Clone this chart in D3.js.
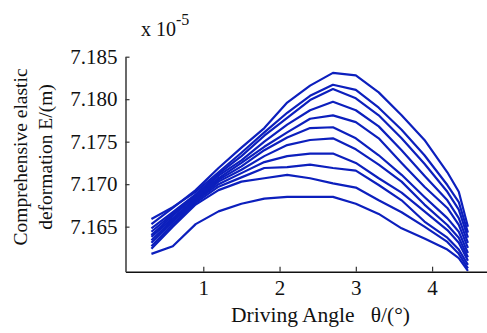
<!DOCTYPE html>
<html>
<head>
<meta charset="utf-8">
<script src="https://cdn.jsdelivr.net/npm/d3@7"></script>
<style>
  body { margin: 0; background: #fff; }
  svg { display: block; font-family: "Liberation Serif", "Times New Roman", serif; }
  text { white-space: pre; }
</style>
</head>
<body>
<svg id="chart" width="487" height="333"></svg>
<script>
// driving angle (deg) sample points
const angle = [0.32, 0.6, 0.9, 1.2, 1.5, 1.8, 2.1, 2.4, 2.7, 3.0, 3.3, 3.6, 3.9, 4.2, 4.35, 4.47];

// comprehensive elastic deformation, x 1e-5 m, one array per curve
const curveA = [7.1653, 7.1672, 7.1693, 7.1719, 7.1743, 7.1766, 7.1796, 7.1816, 7.1831, 7.1828, 7.1808, 7.1781, 7.1752, 7.1714, 7.1691, 7.1650];
const curveB = [7.1659, 7.1673, 7.1691, 7.1714, 7.1737, 7.1761, 7.1784, 7.1804, 7.1817, 7.1811, 7.1790, 7.1764, 7.1734, 7.1699, 7.1679, 7.1643];
const curveC = [7.1648, 7.1667, 7.1688, 7.1712, 7.1733, 7.1757, 7.1778, 7.1799, 7.1812, 7.1801, 7.1781, 7.1754, 7.1724, 7.1691, 7.1670, 7.1637];
const curveD = [7.1644, 7.1665, 7.1686, 7.1710, 7.1728, 7.1750, 7.1770, 7.1787, 7.1797, 7.1787, 7.1768, 7.1740, 7.1710, 7.1681, 7.1660, 7.1631];
const curveE = [7.1640, 7.1663, 7.1685, 7.1707, 7.1725, 7.1744, 7.1761, 7.1777, 7.1781, 7.1773, 7.1754, 7.1725, 7.1697, 7.1672, 7.1652, 7.1625];
const curveF = [7.1638, 7.1660, 7.1683, 7.1705, 7.1721, 7.1740, 7.1755, 7.1766, 7.1767, 7.1754, 7.1734, 7.1711, 7.1685, 7.1660, 7.1644, 7.1619];
const curveG = [7.1634, 7.1658, 7.1681, 7.1703, 7.1717, 7.1733, 7.1746, 7.1752, 7.1754, 7.1741, 7.1723, 7.1703, 7.1676, 7.1652, 7.1637, 7.1614];
const curveH = [7.1631, 7.1656, 7.1680, 7.1700, 7.1713, 7.1726, 7.1733, 7.1736, 7.1736, 7.1725, 7.1707, 7.1690, 7.1668, 7.1646, 7.1631, 7.1610];
const curveI = [7.1627, 7.1653, 7.1678, 7.1697, 7.1708, 7.1719, 7.1720, 7.1723, 7.1719, 7.1716, 7.1699, 7.1681, 7.1656, 7.1637, 7.1623, 7.1605];
const curveJ = [7.1624, 7.1650, 7.1676, 7.1693, 7.1703, 7.1707, 7.1711, 7.1707, 7.1701, 7.1696, 7.1681, 7.1667, 7.1650, 7.1632, 7.1618, 7.1601];
const curveK = [7.1618, 7.1627, 7.1653, 7.1668, 7.1677, 7.1683, 7.1685, 7.1685, 7.1685, 7.1677, 7.1665, 7.1648, 7.1636, 7.1623, 7.1613, 7.1598];

const curves = [curveA, curveB, curveC, curveD, curveE, curveF, curveG, curveH, curveI, curveJ, curveK];

const xTicks = [1, 2, 3, 4];
const yTicks = [7.165, 7.170, 7.175, 7.180, 7.185];

const LINE_COLOR = '#0c1fbd';
const FONT_SIZE = 20;

const svg = d3.select('#chart');

const scaleX = d3.scaleLinear().domain([-0.02, 4.72]).range([125.5, 487]);
const scaleY = d3.scaleLinear().domain([7.1597, 7.185]).range([271.7, 56.7]);

// curves
const line = d3.line()
  .x((d, i) => scaleX(angle[i]))
  .y(d => scaleY(d));

svg.append('g').attr('class', 'curves')
  .selectAll('path')
  .data(curves)
  .join('path')
  .attr('d', line)
  .attr('fill', 'none')
  .attr('stroke', LINE_COLOR)
  .attr('stroke-width', 2.2)
  .attr('stroke-linejoin', 'round');

// axes
const axisX = svg.append('g')
  .attr('transform', 'translate(0,271.7)')
  .call(d3.axisBottom(scaleX).tickValues(xTicks).tickFormat(d3.format('d'))
    .tickSizeInner(-5).tickSizeOuter(0).tickPadding(8));

const axisY = svg.append('g')
  .attr('transform', 'translate(125.5,0)')
  .call(d3.axisLeft(scaleY).tickValues(yTicks).tickFormat(d3.format('.3f'))
    .tickSizeInner(-4).tickSizeOuter(0).tickPadding(8));

axisX.select('.domain').attr('stroke', '#111').attr('stroke-width', 1.6);
axisY.select('.domain').attr('stroke', '#444').attr('stroke-width', 1.6);
[axisX, axisY].forEach(ax => {
  ax.selectAll('line').attr('stroke', '#333').attr('stroke-width', 1.2);
  ax.selectAll('text')
    .attr('font-family', '"Liberation Serif", serif')
    .attr('font-size', 21)
    .attr('fill', '#111');
});

// exponent
const expo = svg.append('text')
  .attr('x', 141)
  .attr('y', 36)
  .attr('font-size', FONT_SIZE)
  .attr('fill', '#111')
  .text('x 10');
expo.append('tspan')
  .attr('dy', -11)
  .attr('font-size', 16)
  .text('-5');

// axis titles
svg.append('text')
  .attr('x', 231)
  .attr('y', 321.5)
  .attr('font-size', 21.5)
  .attr('fill', '#111')
  .text('Driving Angle   θ/(°)');

svg.append('text')
  .attr('transform', 'translate(27,157) rotate(-90)')
  .attr('text-anchor', 'middle')
  .attr('font-size', 19.5)
  .attr('fill', '#111')
  .text('Comprehensive elastic');

svg.append('text')
  .attr('transform', 'translate(52,157) rotate(-90)')
  .attr('text-anchor', 'middle')
  .attr('font-size', 19.5)
  .attr('fill', '#111')
  .text('deformation E/(m)');
</script>
</body>
</html>
